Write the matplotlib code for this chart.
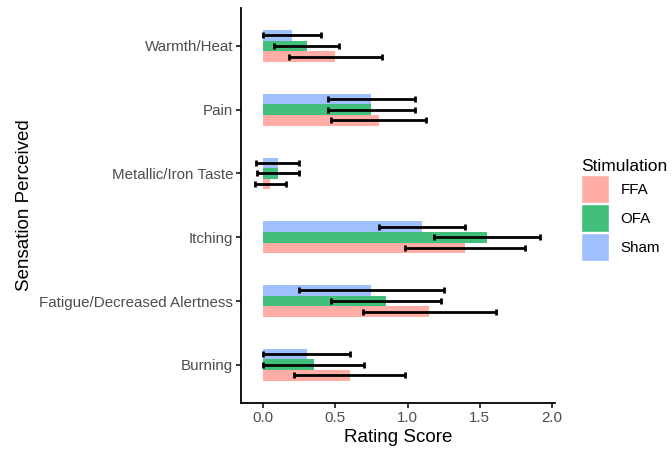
import numpy as np
import matplotlib.pyplot as plt
from matplotlib.patches import Patch

plt.rcParams['font.family'] = ['Liberation Sans', 'DejaVu Sans']

sensations = ['Burning', 'Fatigue/Decreased Alertness', 'Itching',
              'Metallic/Iron Taste', 'Pain', 'Warmth/Heat']
groups = ['FFA', 'OFA', 'Sham']
colors = ['#FFADA5', '#43BF7C', '#A0BFFF']

ffa_mean = [0.60, 1.15, 1.40, 0.05, 0.80, 0.50]
ffa_err = [0.385, 0.46, 0.415, 0.11, 0.33, 0.32]
ofa_mean = [0.35, 0.85, 1.55, 0.10, 0.75, 0.30]
ofa_err = [0.35, 0.38, 0.37, 0.145, 0.30, 0.225]
sham_mean = [0.30, 0.75, 1.10, 0.10, 0.75, 0.20]
sham_err = [0.30, 0.50, 0.30, 0.15, 0.30, 0.20]

means = [ffa_mean, ofa_mean, sham_mean]
errs = [ffa_err, ofa_err, sham_err]

fig = plt.figure(figsize=(6.72, 4.51), dpi=100)
ax = fig.add_axes([0.3586, 0.1064, 0.467, 0.8765])

y = np.arange(1, len(sensations) + 1)
h = 0.5 / 3
for i in range(3):
    pos = y + (i - 1) * h
    ax.barh(pos, means[i], height=h, color=colors[i], edgecolor='none')
    ax.errorbar(means[i], pos, xerr=errs[i], fmt='none', ecolor='black',
                elinewidth=2, capsize=2.5, capthick=2)

ax.set_ylim(0.4, 6.6)
ax.set_xlim(-0.154, 2.02)
ax.set_yticks(y)
ax.set_yticklabels(sensations)
ax.set_xticks([0, 0.5, 1.0, 1.5, 2.0])
ax.set_xticklabels(['0.0', '0.5', '1.0', '1.5', '2.0'])

for s in ['top', 'right']:
    ax.spines[s].set_visible(False)
for s in ['left', 'bottom']:
    ax.spines[s].set_linewidth(1.3)
ax.tick_params(axis='both', length=3.5, width=1.1, colors='black',
               labelcolor='#4D4D4D', labelsize=10.9, pad=2)

ax.set_xlabel('Rating Score', fontsize=13.5, color='black', labelpad=3)
ax.set_ylabel('Sensation Perceived', fontsize=13.5, color='black', labelpad=5)

handles = [Patch(facecolor=c, edgecolor='white', label=g) for g, c in zip(groups, colors)]
leg = fig.legend(handles=handles, title='Stimulation', loc='center left',
                 bbox_to_anchor=(0.865, 0.534), frameon=False, fontsize=10.9,
                 title_fontsize=12.5, handlelength=1.85, handleheight=2.5,
                 handletextpad=0.75, labelspacing=0.05, borderpad=0,
                 borderaxespad=0, alignment='left')

fig.savefig('out.png', dpi=100)
